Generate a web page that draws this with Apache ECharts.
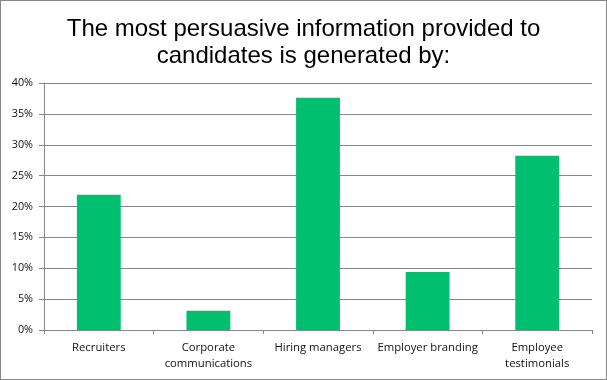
<!DOCTYPE html>
<html><head><meta charset="utf-8">
<script src="https://cdn.jsdelivr.net/npm/echarts@6/dist/echarts.min.js"></script>
<style>
html,body{margin:0;padding:0;background:#fff;}
#c{width:605px;height:378px;border:1px solid #878787;}
</style></head>
<body><div id="c"></div>
<script>
const titleText = 'The most persuasive information provided to\ncandidates is generated by:';
const categories = ['Recruiters', 'Corporate\ncommunications', 'Hiring managers', 'Employer branding', 'Employee\ntestimonials'];
const values = [21.9, 3.1, 37.6, 9.4, 28.2];
const yTicks = [0, 5, 10, 15, 20, 25, 30, 35, 40];

const chart = echarts.init(document.getElementById('c'));
chart.setOption({
  animation: false,
  title: {
    text: titleText,
    left: 'center',
    top: 10,
    textStyle: {fontFamily: 'Liberation Sans', fontSize: 24, fontWeight: 'normal', color: '#000', lineHeight: 27}
  },
  grid: {left: 43, right: 14, top: 82, bottom: 49, containLabel: false},
  xAxis: {
    type: 'category',
    data: categories,
    axisLine: {lineStyle: {color: '#868686', width: 1}},
    axisTick: {show: true, length: 4, lineStyle: {color: '#868686'}},
    axisLabel: {fontFamily: 'Open Sans', fontSize: 11.3, color: '#111', margin: 10, lineHeight: 16, interval: 0}
  },
  yAxis: {
    type: 'value',
    min: yTicks[0], max: yTicks[yTicks.length - 1], interval: 5,
    axisLine: {show: true, lineStyle: {color: '#868686'}},
    axisTick: {show: true, length: 5, lineStyle: {color: '#868686'}},
    splitLine: {lineStyle: {color: '#868686', width: 1}},
    axisLabel: {fontFamily: 'Open Sans', fontSize: 10.8, color: '#111', margin: 11, formatter: v => v + '%'}
  },
  series: [{
    type: 'bar',
    data: values,
    barWidth: '40%',
    itemStyle: {color: '#00BF6F'}
  }]
});
</script></body></html>
